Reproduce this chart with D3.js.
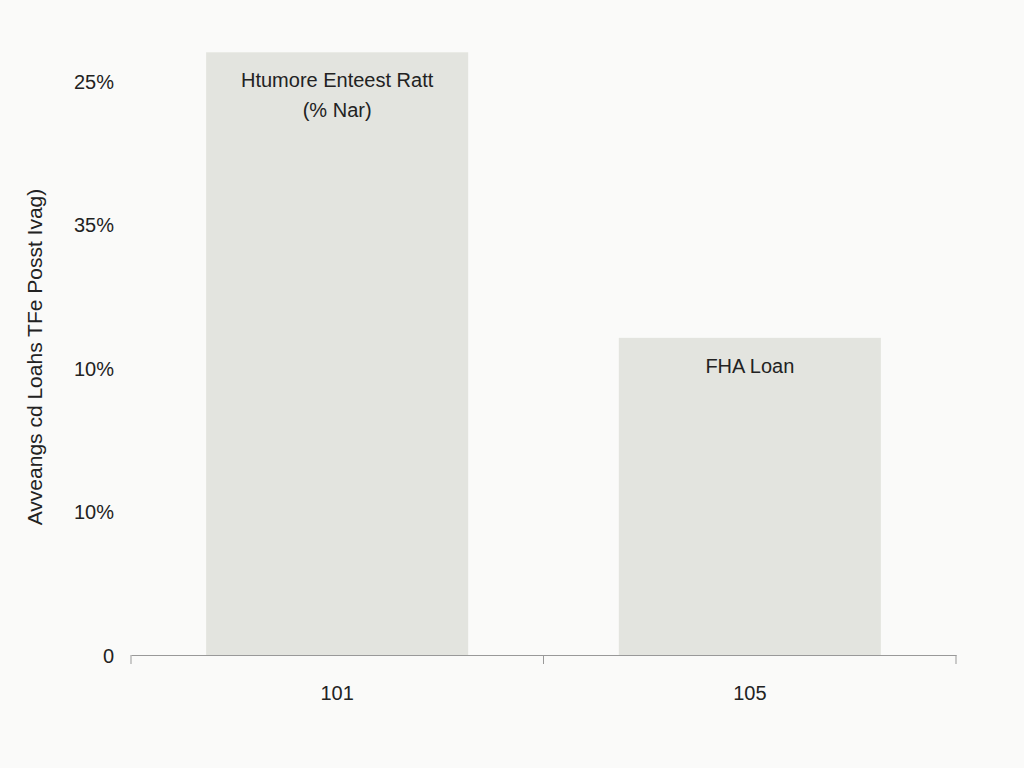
<!DOCTYPE html>
<html><head><meta charset="utf-8">
<script src="https://cdn.jsdelivr.net/npm/d3@7"></script>
<style>body{margin:0;background:#fafaf9;}svg{display:block;font-family:"Liberation Sans",Arial,sans-serif;}</style>
</head><body><svg width="1024" height="768"></svg>
<script>
const categories = ["101", "105"];
const values = [42, 22.1];
const barLabels = [["Htumore Enteest Ratt", "(% Nar)"], ["FHA Loan"]];
const tickValues = [0, 10, 20, 30, 40];
const tickLabels = ["0", "10%", "10%", "35%", "25%"];
const yTitle = "Avveangs cd Loahs TFe Posst Ivag)";

const svg = d3.select("svg");
const x = d3.scaleBand().domain(categories).range([131, 956]).paddingInner(0.365).paddingOuter(0.182);
const y = d3.scaleLinear().domain([0, 40]).range([655, 81]);

svg.append("rect").attr("width",1024).attr("height",768).attr("fill","#fafaf9");

svg.selectAll(".bar").data(categories).join("rect")
  .attr("x", d => x(d)).attr("width", x.bandwidth())
  .attr("y", (d,i) => y(values[i])).attr("height", (d,i) => y(0) - y(values[i]))
  .attr("fill", "#e3e4df");

categories.forEach((c,i) => {
  const t = svg.append("text").attr("text-anchor","middle").attr("font-size",20).attr("fill","#222");
  barLabels[i].forEach((l,j) => t.append("tspan").attr("x", x(c)+x.bandwidth()/2)
    .attr("y", y(values[i]) + 35 + j*30).text(l));
});

const xa = svg.append("g").attr("transform","translate(0,655)")
  .call(d3.axisBottom(x).tickSize(0).tickPadding(31));
xa.select(".domain").attr("stroke","#999");
xa.selectAll("text").attr("font-size",20).attr("fill","#222").attr("font-family","Liberation Sans, Arial");
[131, 543.5, 956].forEach(px => svg.append("line").attr("x1",px).attr("x2",px).attr("y1",655).attr("y2",664).attr("stroke","#999"));

const ya = svg.append("g").attr("transform","translate(118,0)")
  .call(d3.axisLeft(y).tickValues(tickValues).tickFormat((d,i)=>tickLabels[i]).tickSize(0).tickPadding(4));
ya.select(".domain").remove();
ya.selectAll("text").attr("font-size",20).attr("fill","#222").attr("font-family","Liberation Sans, Arial").attr("dy","0.35em");

svg.append("text").attr("transform","translate(42,357) rotate(-90)").attr("text-anchor","middle")
  .attr("font-size",21).attr("fill","#222").text(yTitle);
</script></body></html>
